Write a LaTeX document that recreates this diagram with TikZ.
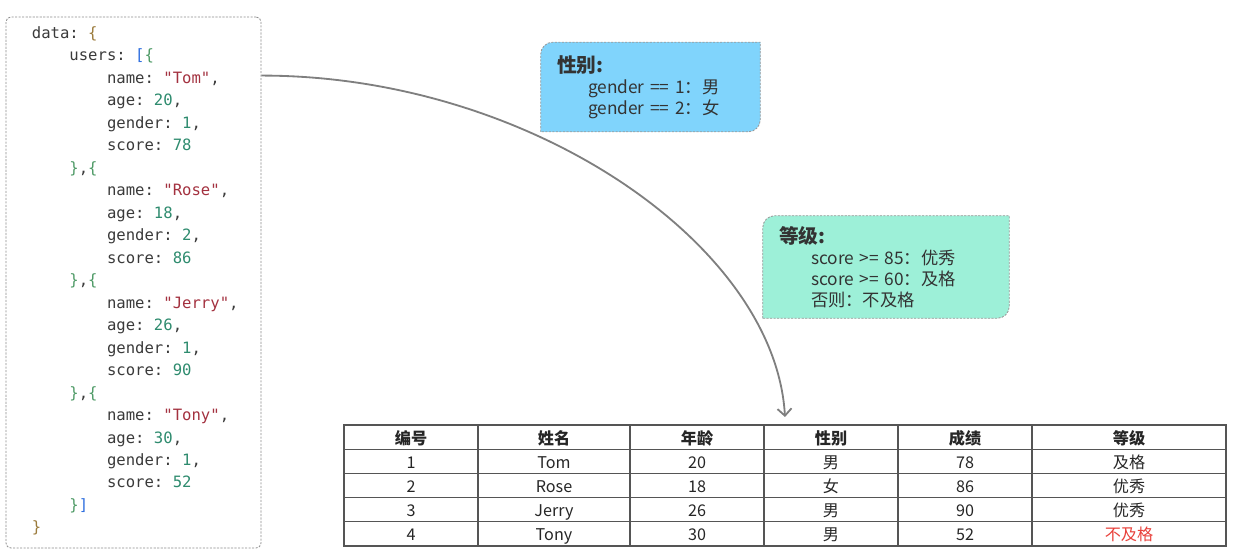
\documentclass[tikz,border=0pt]{standalone}
\usepackage{fontspec}
\setmainfont{Noto Sans CJK SC}
\setmonofont{DejaVu Sans Mono}
\usetikzlibrary{arrows.meta,positioning,calc,backgrounds}

\definecolor{codekey}{HTML}{3A3A3A}
\definecolor{codestr}{HTML}{A3313F}
\definecolor{codenum}{HTML}{2E8B6E}
\definecolor{braceone}{HTML}{9B7B3C}
\definecolor{bracetwo}{HTML}{4E9A66}
\definecolor{bracketblue}{HTML}{2F6FDF}
\definecolor{sexblue}{HTML}{80D4FC}
\definecolor{levelgreen}{HTML}{9DF0D8}
\definecolor{tline}{HTML}{555555}
\definecolor{flowgray}{HTML}{7F7F7F}
\definecolor{failred}{HTML}{E8413B}

\newcommand{\ind}{\phantom{xxxx}}
\newcommand{\cstr}[1]{\textcolor{codestr}{#1}}
\newcommand{\cnum}[1]{\textcolor{codenum}{#1}}
\newcommand{\bra}[1]{\textcolor{braceone}{#1}}
\newcommand{\brb}[1]{\textcolor{bracetwo}{#1}}
\newcommand{\brc}[1]{\textcolor{bracketblue}{#1}}
% marco con esquinas redondeadas solo arriba-izq. y abajo-der.
\newcommand{\noteshape}[2]{%
    \path[noteframe=#2] (#1.south west) -- ([yshift=-3mm]#1.north west)
        arc[start angle=180,end angle=90,radius=3mm] -- (#1.north east)
        -- ([yshift=3mm]#1.south east)
        arc[start angle=0,end angle=-90,radius=3mm] -- cycle;}

\tikzset{
    codebox/.style={
        rectangle,
        rounded corners=1.2mm,          % esquinas apenas redondeadas
        draw=gray!90,
        dash pattern=on 1.5pt off 1pt,  % borde punteado fino
        line width=0.6pt,
        minimum width=6.375cm,
        minimum height=13.275cm
    },
    codetext/.style={
        align=left,
        inner sep=0pt,
        text=codekey,
        font=\ttfamily\fontsize{11.1}{16}\selectfont
    },
    notebox/.style={
        rectangle,
        inner xsep=4mm,
        inner ysep=0pt,
        align=left,
        text=black!80,
        font=\fontsize{12.3}{15}\selectfont
    },
    noteframe/.style={
        draw=gray!80,
        fill=#1,                        % color de fondo de la nota
        dash pattern=on 1.5pt off 1pt,
        line width=0.6pt
    },
    cell/.style={
        rectangle,
        draw=tline,
        line width=0.8pt,
        minimum height=0.605cm,
        inner sep=0pt,
        outer sep=0pt,
        text height=1em,                % misma linea base en todas las celdas
        text depth=0pt,
        text=black!85,
        font=\fontsize{11.5}{13}\selectfont
    },
    headcell/.style={cell, font=\fontsize{11.5}{13}\selectfont\bfseries},
    flow/.style={draw=flowgray, line width=1.3pt, -{Straight Barb[length=5pt,width=10pt]}}
}

\begin{document}
\begin{tikzpicture}
    \useasboundingbox (0,0) rectangle (31,-13.75);

    % datos de entrada
    \node[codebox] (code) at (3.3375,-7.0625) {};
    \node[codetext, anchor=west] (codetxt) at ([xshift=0.65cm,yshift=0.04cm]code.west) {%
        data: \bra{\{}\\
        \ind users: \brc{[}\brb{\{}\\
        \ind\ind name: \cstr{"Tom"},\\
        \ind\ind age: \cnum{20},\\
        \ind\ind gender: \cnum{1},\\
        \ind\ind score: \cnum{78}\\
        \ind\brb{\}},\brb{\{}\\
        \ind\ind name: \cstr{"Rose"},\\
        \ind\ind age: \cnum{18},\\
        \ind\ind gender: \cnum{2},\\
        \ind\ind score: \cnum{86}\\
        \ind\brb{\}},\brb{\{}\\
        \ind\ind name: \cstr{"Jerry"},\\
        \ind\ind age: \cnum{26},\\
        \ind\ind gender: \cnum{1},\\
        \ind\ind score: \cnum{90}\\
        \ind\brb{\}},\brb{\{}\\
        \ind\ind name: \cstr{"Tony"},\\
        \ind\ind age: \cnum{30},\\
        \ind\ind gender: \cnum{1},\\
        \ind\ind score: \cnum{52}\\
        \ind\brb{\}}\brc{]}\\
        \bra{\}}};

    % notas
    \node[notebox, text width=4.675cm, minimum height=2.225cm] (sex) at (16.2625,-2.175)
        {{\fontsize{14}{15}\selectfont\bfseries 性别:}\\
         \hspace*{0.775cm}gender == 1：男\\
         \hspace*{0.775cm}gender == 2：女};
    \node[notebox, text width=5.35cm, minimum height=2.55cm] (level) at (22.15,-6.675)
        {{\fontsize{14}{15}\selectfont\bfseries 等级:}\\
         \hspace*{0.8cm}score >= 85：优秀\\
         \hspace*{0.8cm}score >= 60：及格\\
         \hspace*{0.8cm}否则：不及格};
    \begin{scope}[on background layer]
        \noteshape{sex}{sexblue}
        \noteshape{level}{levelgreen}
    \end{scope}

    % tabla
    \node[headcell, minimum width=3.35cm, anchor=north west] (h1) at (8.6,-10.625) {编号};
    \node[headcell, minimum width=3.8cm, right=0pt of h1] (h2) {姓名};
    \node[headcell, minimum width=3.35cm, right=0pt of h2] (h3) {年龄};
    \node[headcell, minimum width=3.35cm, right=0pt of h3] (h4) {性别};
    \node[headcell, minimum width=3.35cm, right=0pt of h4] (h5) {成绩};
    \node[headcell, minimum width=4.85cm, right=0pt of h5] (h6) {等级};
    \foreach \a/\b/\c/\d/\e/\f [count=\i] in {1/Tom/20/男/78/及格, 2/Rose/18/女/86/优秀,
        3/Jerry/26/男/90/优秀, 4/Tony/30/男/52/\textcolor{failred}{不及格}} {
        \node[cell, minimum width=3.35cm, anchor=north west] (r\i c1) at (8.6,{-10.625-0.605*\i}) {\a};
        \node[cell, minimum width=3.8cm, right=0pt of r\i c1] (r\i c2) {\b};
        \node[cell, minimum width=3.35cm, right=0pt of r\i c2] (r\i c3) {\c};
        \node[cell, minimum width=3.35cm, right=0pt of r\i c3] (r\i c4) {\d};
        \node[cell, minimum width=3.35cm, right=0pt of r\i c4] (r\i c5) {\e};
        \node[cell, minimum width=4.85cm, right=0pt of r\i c5] (r\i c6) {\f};
    }

    % flecha de datos a tabla
    \coordinate (src) at ([yshift=-1.475cm]code.north east);
    \coordinate (dst) at ([xshift=0.525cm,yshift=0.2cm]h4.north west);
    \draw[flow] (src) .. controls +(6.725,0) and +(-0.25,4.3) .. (dst);
\end{tikzpicture}
\end{document}
